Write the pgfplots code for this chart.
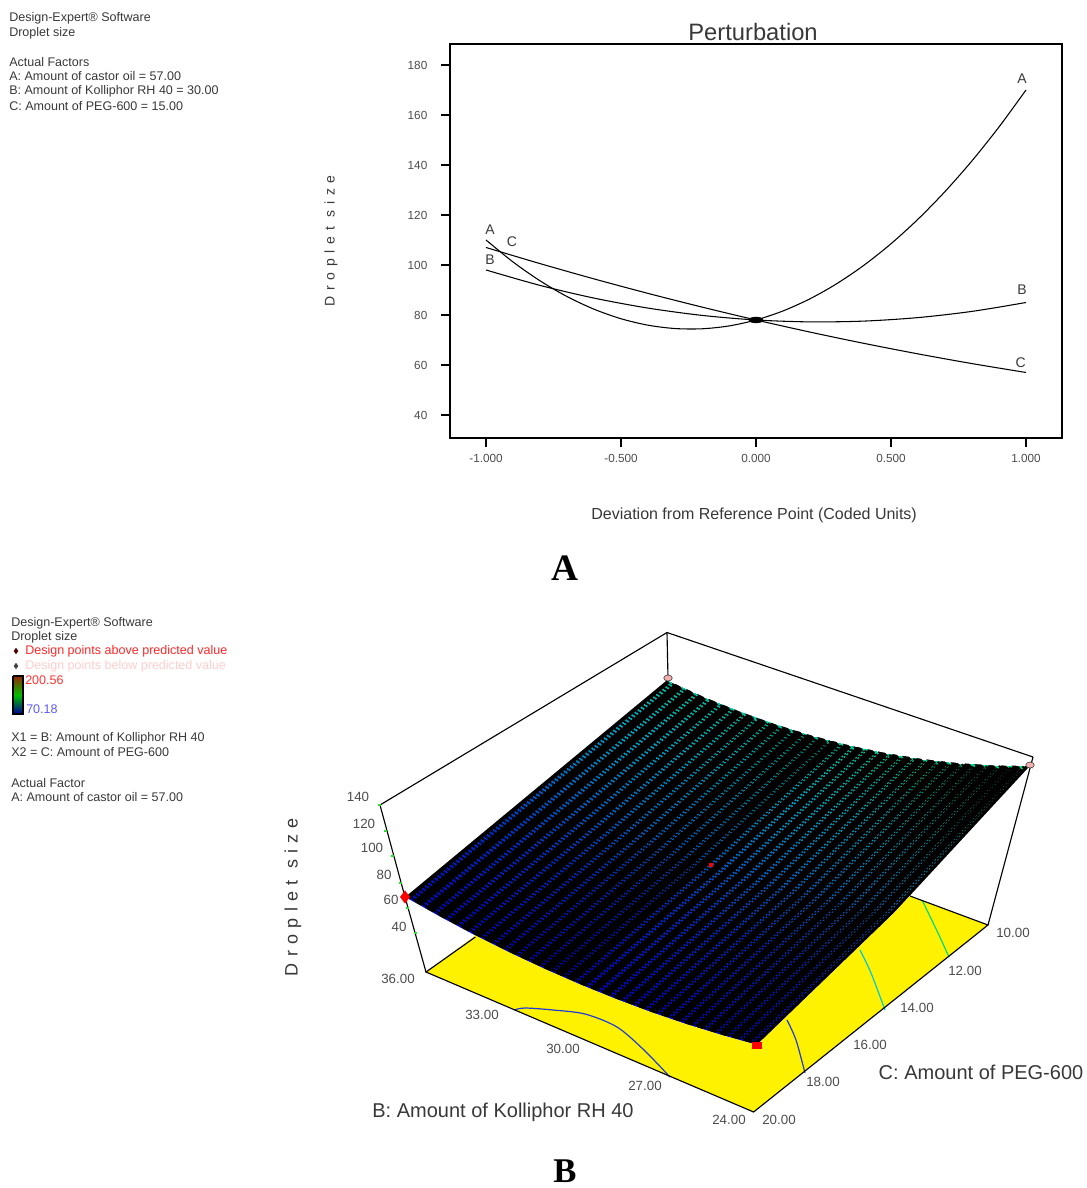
\documentclass[border=0pt]{standalone}
\usepackage{fontspec}
\setmainfont{Liberation Sans}
\newfontfamily\spacedA[LetterSpace=41]{Liberation Sans}
\newfontfamily\spacedB[LetterSpace=35]{Liberation Sans}
\newfontfamily\panelfont{Liberation Serif}
\usepackage{pgfplots}
\usepackage{pgfplotstable}
\pgfplotsset{compat=1.18}
\definecolor{txt}{gray}{0.22}
\definecolor{tick}{gray}{0.30}
\newcommand{\fs}[1]{\fontsize{#1}{#1}\selectfont}

% Coarse grid of the response surface, in picture pixels (x y z)
\pgfplotstableread{
x y z
405 897 0
536 788.5 0
667 680 0
440.2 916.8 0
571.8 807.5 0
703.3 696.5 0
475.4 935.6 0
607.5 825 0
739.6 711.3 0
510.6 953.2 0
643.3 841.1 0
775.9 724.3 0
545.8 969.6 0
679 855.8 0
812.2 735.5 0
581 985 0
714.8 869 0
848.5 745 0
616.2 999.2 0
750.5 880.8 0
884.8 752.7 0
651.4 1012.4 0
786.3 891.1 0
921.1 758.7 0
686.6 1024.4 0
822 900 0
957.4 762.9 0
721.8 1035.2 0
857.8 907.5 0
993.7 765.3 0
757 1045 0
893.5 913.5 0
1030 766 0
}\gridT

% Mesh lines of the surface, C direction
\pgfplotstableread{
x y
405 897
536 788.5
667 680
nan nan
416.7 903.7
547.9 795
679.1 685.7
nan nan
428.5 910.4
559.8 801.3
691.2 691.2
nan nan
440.2 916.8
571.8 807.5
703.3 696.5
nan nan
451.9 923.2
583.7 813.5
715.4 701.7
nan nan
463.7 929.5
595.6 819.3
727.5 706.5
nan nan
475.4 935.6
607.5 825
739.6 711.3
nan nan
487.1 941.5
619.4 830.6
751.7 715.9
nan nan
498.9 947.4
631.3 835.9
763.8 720.1
nan nan
510.6 953.2
643.3 841.1
775.9 724.3
nan nan
522.3 958.7
655.2 846.2
788 728.3
nan nan
534.1 964.3
667.1 851
800.1 731.9
nan nan
545.8 969.6
679 855.8
812.2 735.5
nan nan
557.5 974.8
690.9 860.4
824.3 738.9
nan nan
569.3 980
702.8 864.7
836.4 742
nan nan
581 985
714.8 869
848.5 745
nan nan
592.7 989.8
726.7 873.1
860.6 747.8
nan nan
604.5 994.6
738.6 877
872.7 750.3
nan nan
616.2 999.2
750.5 880.8
884.8 752.7
nan nan
627.9 1003.7
762.4 884.4
896.9 754.9
nan nan
639.7 1008.1
774.3 887.8
909 756.9
nan nan
651.4 1012.4
786.3 891.1
921.1 758.7
nan nan
663.1 1016.4
798.2 894.3
933.2 760.3
nan nan
674.9 1020.5
810.1 897.2
945.3 761.7
nan nan
686.6 1024.4
822 900
957.4 762.9
nan nan
698.3 1028.1
833.9 902.7
969.5 763.9
nan nan
710.1 1031.8
845.8 905.1
981.6 764.7
nan nan
721.8 1035.2
857.8 907.5
993.7 765.3
nan nan
733.5 1038.6
869.7 909.7
1005.8 765.8
nan nan
745.3 1041.9
881.6 911.6
1017.9 765.9
nan nan
757 1045
893.5 913.5
1030 766
}\linesT

\pgfplotstableread{
x y
378 805
381 805
nan nan
384 831
387 831
nan nan
391 856
394 856
nan nan
399 883
402 883
nan nan
406 908
409 908
nan nan
414 933
417 933
}\ztickT

\begin{document}
\begin{tikzpicture}[x=1pt,y=1pt]
\useasboundingbox (0,0) rectangle (814.5pt,891pt);

% surface colours and colour bar
\begin{axis}[at={(0pt,0pt)},anchor=south west,scale only axis,width=814.5pt,height=891pt,
  xmin=0,xmax=1086,ymin=0,ymax=1188,zmin=-1,zmax=1,y dir=reverse,view={0}{90},hide axis,clip=false,
  point meta min=0,point meta max=1]
\addplot3[surf,shader=interp,mesh/cols=3,mesh/rows=11,
  colormap={surfc}{rgb255(0cm)=(0,0,185); rgb255(2cm)=(0,45,205); rgb255(4.5cm)=(0,170,200); rgb255(7cm)=(0,240,110); rgb255(10cm)=(0,255,60)},
  point meta={0.05+0.000642*(x-405)-0.00153*(y-897)}]
  table[x=x,y=y,z=z]{\gridT};
\addplot3[surf,shader=interp,mesh/cols=2,mesh/rows=3,
  colormap={barc}{rgb255(0cm)=(0,0,150); rgb255(5cm)=(0,190,0); rgb255(10cm)=(150,40,0)},
  point meta={(714-y)/38}]
  coordinates {(13,676,0) (23,676,0)

  (13,695,0) (23,695,0)

  (13,714,0) (23,714,0)};
\end{axis}

% overlay in picture pixels
\begin{axis}[at={(0pt,0pt)},anchor=south west,scale only axis,width=814.5pt,height=891pt,
  xmin=0,xmax=1086,ymin=0,ymax=1188,y dir=reverse,hide axis,clip=false,unbounded coords=jump]
% black mesh with the surface colour left as dots
\addplot[black,line width=9pt,dash pattern=on 1.5pt off 1.5pt,skip coords between index={60}{200}] table[x=x,y=y]{\linesT};
\addplot[black,line width=6.1pt,line join=round,skip coords between index={60}{200}] table[x=x,y=y]{\linesT};
\addplot[black,line width=8pt,dash pattern=on 1.5pt off 1.5pt,skip coords between index={0}{60}] table[x=x,y=y]{\linesT};
\addplot[black,line width=5.2pt,line join=round,skip coords between index={0}{60}] table[x=x,y=y]{\linesT};
% trim the ends of the mesh lines
\addplot[fill=white,draw=none] coordinates {(405,897)(667,680)(660,668)(392,885)};
\addplot[fill=white,draw=none] coordinates {(667,680)(703.3,696.5)(739.6,711.3)(775.9,724.3)(812.2,735.5)(848.5,745)(884.8,752.7)(921.1,758.7)(957.4,762.9)(993.7,765.3)(1030,766)(1042,754)(667,666)};
\addplot[fill=white,draw=none] coordinates {(1030,766)(893.5,913.5)(757,1045)(767,1057)(903,925)(1042,778)};
\addplot[fill=white,draw=none] coordinates {(405,897)(440.2,916.8)(475.4,935.6)(510.6,953.2)(545.8,969.6)(581,985)(616.2,999.2)(651.4,1012.4)(686.6,1024.4)(721.8,1035.2)(757,1045)(757,1057)(721.8,1046)(686.6,1035)(651.4,1023)(616.2,1010)(581,996)(545.8,981)(510.6,964)(475.4,947)(440.2,928)(400,906)};
% base plane
\addplot[fill=yellow,draw=none] coordinates {(426,972)(475.4,935.6)(510.6,953.2)(545.8,969.6)(581,985)(616.2,999.2)(651.4,1012.4)(686.6,1024.4)(721.8,1035.2)(757,1045)(893.5,913.5)(910,896)(988,925)(753.6,1112)(426,972)};
% contours on the base
\addplot[color={rgb,255:red,30;green,60;blue,220},line width=0.9pt,smooth] coordinates {(514,1010)(525,1008)(553,1010)(585,1014)(617,1027)(644,1050)(670,1077)};
\addplot[color={rgb,255:red,30;green,60;blue,220},line width=0.9pt,smooth] coordinates {(787,1020)(796,1040)(805,1073)};
\addplot[color={rgb,255:red,0;green,200;blue,225},line width=0.9pt,smooth] coordinates {(860,950)(871,973)(885,1010)};
\addplot[color={rgb,255:red,0;green,215;blue,140},line width=0.9pt,smooth] coordinates {(922,900)(938,933)(949,957)};
% box
\addplot[black,line width=0.85pt] coordinates {(380,805)(667,632.5)(1033,757)};
\addplot[black,line width=0.85pt] coordinates {(667,632.5)(668,678)};
\addplot[black,line width=0.85pt] coordinates {(380,805)(405,897)};
\addplot[black,line width=0.85pt] coordinates {(405,897)(426,972)};
\addplot[black,line width=0.85pt] coordinates {(1033,757)(988,925)};
\addplot[black,line width=0.85pt] coordinates {(475.4,937)(426,972)(753.6,1112)(988,925)(910,896)};
\addplot[color={rgb,255:red,40;green,220;blue,40},line width=0.8pt] table[x=x,y=y]{\ztickT};
% design points
\addplot[only marks,mark=diamond*,mark size=4.6pt,color=red] coordinates {(405,897)};
\addplot[only marks,mark=square*,mark size=3.4pt,mark options={yscale=0.65},color=red] coordinates {(757,1045)};
\addplot[only marks,mark=square*,mark size=1.2pt,color=red] coordinates {(711,865)};
\addplot[only marks,mark=*,mark size=3.2pt,mark options={yscale=0.7,fill={rgb,255:red,245;green,175;blue,175},draw=black!70,line width=0.5pt}] coordinates {(668,678)(1030,765)};
% colour bar frame and legend marks
\addplot[black,line width=1pt] coordinates {(13,676)(23,676)(23,714)(13,714)(13,676)};
\addplot[only marks,mark=diamond*,mark size=2pt,color=black!70!red] coordinates {(16,651)};
\addplot[only marks,mark=diamond*,mark size=2pt,color=black!75] coordinates {(16,666)};

% text, lower panel
\begin{scope}[every node/.style={anchor=west,inner sep=0pt,text=txt,font=\fs{9.4}}]
\node at (axis cs:11,623) {Design-Expert® Software};
\node at (axis cs:11,637) {Droplet size};
\node[text={rgb,255:red,255;green,40;blue,40}] at (axis cs:25,651) {Design points above predicted value};
\node[text={rgb,255:red,255;green,205;blue,205}] at (axis cs:25,666) {Design points below predicted value};
\node[text={rgb,255:red,255;green,50;blue,50}] at (axis cs:25,680) {200.56};
\node[text={rgb,255:red,90;green,90;blue,255}] at (axis cs:26,709) {70.18};
\node at (axis cs:11,738) {X1 = B: Amount of Kolliphor RH 40};
\node at (axis cs:11,752) {X2 = C: Amount of PEG-600};
\node at (axis cs:11,783) {Actual Factor};
\node at (axis cs:11,797) {A: Amount of castor oil = 57.00};
% text, upper panel
\node at (axis cs:9,18) {Design-Expert® Software};
\node at (axis cs:9,33) {Droplet size};
\node at (axis cs:9,62) {Actual Factors};
\node at (axis cs:9,76) {A: Amount of castor oil = 57.00};
\node at (axis cs:9,91) {B: Amount of Kolliphor RH 40 = 30.00};
\node at (axis cs:9,106) {C: Amount of PEG-600 = 15.00};
\end{scope}
\begin{scope}[every node/.style={inner sep=0pt,text=tick,font=\fs{10}}]
\node at (axis cs:358,797) {140};
\node at (axis cs:364,824) {120};
\node at (axis cs:372,848) {100};
\node at (axis cs:384,875) {80};
\node at (axis cs:391,900) {60};
\node at (axis cs:399,927) {40};
\node at (axis cs:398,979) {36.00};
\node at (axis cs:482,1015) {33.00};
\node at (axis cs:563,1049) {30.00};
\node at (axis cs:645,1086) {27.00};
\node at (axis cs:729,1120) {24.00};
\node at (axis cs:1013,933) {10.00};
\node at (axis cs:965,971) {12.00};
\node at (axis cs:917,1008) {14.00};
\node at (axis cs:870,1045) {16.00};
\node at (axis cs:823,1082) {18.00};
\node at (axis cs:779,1120) {20.00};
\end{scope}
\node[inner sep=0pt,text=txt,font=\fs{15}] at (axis cs:503,1112) {B: Amount of Kolliphor RH 40};
\node[inner sep=0pt,text=txt,font=\fs{15}] at (axis cs:981,1072) {C: Amount of PEG-600};
\node[inner sep=0pt,text=txt,rotate=90,font=\fs{13.5}\spacedB] at (axis cs:293,897) {Droplet size};
\node[inner sep=0pt,text=txt,rotate=90,font=\fs{10.5}\spacedA] at (axis cs:331,241) {Droplet size};
\node[inner sep=0pt,text=black,font=\fs{28}\panelfont\bfseries] at (axis cs:565,568) {A};
\node[inner sep=0pt,text=black,font=\fs{26}\panelfont\bfseries] at (axis cs:565,1171) {B};
\end{axis}

% upper plot
\begin{axis}[at={(337.5pt,562.5pt)},anchor=south west,scale only axis,width=459pt,height=295.5pt,
  xmin=-1.1333,xmax=1.1333,ymin=30.8,ymax=188.4,
  axis line style={black,line width=0.9pt},
  xtick={-1,-0.5,0,0.5,1},xticklabels={-1.000,-0.500,0.000,0.500,1.000},
  ytick={40,60,80,100,120,140,160,180},
  tick align=outside,tick pos=left,major tick length=6.5pt,
  tick style={black,line width=0.8pt},
  tick label style={font=\fs{8.8},text=tick},
  /pgf/number format/assume math mode=true,
  xticklabel style={yshift=-2pt},
  yticklabel style={xshift=-7pt},
  clip=false]
\addplot[black,line width=0.8pt,smooth] coordinates {(-1,110)(-0.9,101.22)(-0.8,93.68)(-0.7,87.38)(-0.6,82.32)(-0.5,78.5)(-0.4,75.92)(-0.3,74.58)(-0.2,74.48)(-0.1,75.62)(0,78)(0.1,81.62)(0.2,86.48)(0.3,92.58)(0.4,99.92)(0.5,108.5)(0.6,118.32)(0.7,129.38)(0.8,141.68)(0.9,155.22)(1,170)};
\addplot[black,line width=0.8pt,smooth] coordinates {(-1,98)(-0.8,91.84)(-0.6,86.76)(-0.4,82.76)(-0.2,79.84)(0,78)(0.2,77.24)(0.4,77.56)(0.6,78.96)(0.8,81.44)(1,85)};
\addplot[black,line width=0.8pt,smooth] coordinates {(-1,107)(-0.8,100.56)(-0.6,94.44)(-0.4,88.64)(-0.2,83.16)(0,78)(0.2,73.16)(0.4,68.64)(0.6,64.44)(0.8,60.56)(1,57)};
\addplot[only marks,mark=*,mark size=2.2pt,mark options={xscale=2.4,black}] coordinates {(0,78)};
\begin{scope}[every node/.style={inner sep=0pt,text=txt,font=\fs{10.5}}]
\node at (axis cs:-0.985,114) {A};
\node at (axis cs:-0.904,109.2) {C};
\node at (axis cs:-0.985,102) {B};
\node at (axis cs:0.985,174.4) {A};
\node at (axis cs:0.985,90) {B};
\node at (axis cs:0.98,60.8) {C};
\node[font=\fs{17.8}] at (axis cs:-0.011,193.2) {Perturbation};
\node[font=\fs{12}] at (axis cs:-0.007,0) {Deviation from Reference Point (Coded Units)};
\end{scope}
\end{axis}
\end{tikzpicture}
\end{document}
